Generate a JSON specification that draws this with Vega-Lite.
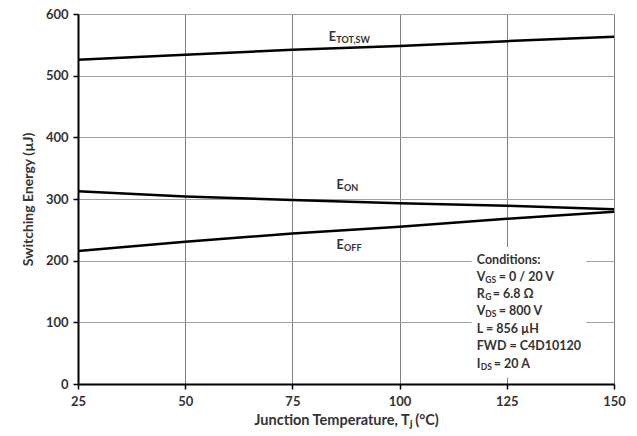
{
  "$schema": "https://vega.github.io/schema/vega-lite/v6.json",
  "width": 536,
  "height": 370,
  "autosize": {"type": "none"},
  "padding": {"left": 78, "top": 14, "right": 23, "bottom": 52},
  "background": "white",
  "config": {
    "font": "Lato",
    "view": {"stroke": null},
    "axis": {
      "labelFont": "Lato",
      "labelFontWeight": "bold",
      "labelFontSize": 13,
      "labelColor": "#333333",
      "titleFont": "Lato",
      "titleFontWeight": "bold",
      "titleColor": "#333333",
      "domainColor": "#000000",
      "domainWidth": 2,
      "tickColor": "#000000",
      "tickWidth": 1.5,
      "tickSize": 5,
      "gridWidth": 1
    }
  },
  "datasets": {
    "curves": [
      {"T": 25, "E": 526, "series": "ETOT"},
      {"T": 50, "E": 534, "series": "ETOT"},
      {"T": 75, "E": 542, "series": "ETOT"},
      {"T": 100, "E": 548, "series": "ETOT"},
      {"T": 125, "E": 556, "series": "ETOT"},
      {"T": 150, "E": 563, "series": "ETOT"},
      {"T": 25, "E": 312.5, "series": "EON"},
      {"T": 50, "E": 304, "series": "EON"},
      {"T": 75, "E": 298.5, "series": "EON"},
      {"T": 100, "E": 293, "series": "EON"},
      {"T": 125, "E": 289, "series": "EON"},
      {"T": 150, "E": 283.5, "series": "EON"},
      {"T": 25, "E": 215.5, "series": "EOFF"},
      {"T": 50, "E": 230.5, "series": "EOFF"},
      {"T": 75, "E": 244, "series": "EOFF"},
      {"T": 100, "E": 255, "series": "EOFF"},
      {"T": 125, "E": 268, "series": "EOFF"},
      {"T": 150, "E": 279.5, "series": "EOFF"}
    ],
    "curveLabels": [
      {"T": 83.5, "E": 563, "main": "E", "sub": "TOT,SW"},
      {"T": 85.3, "E": 322, "main": "E", "sub": "ON"},
      {"T": 85.3, "E": 225, "main": "E", "sub": "OFF"}
    ],
    "box": [
      {"T": 116.8, "T2": 143.5, "E": 10, "E2": 222}
    ],
    "conditions": [
      {"T": 118, "E": 201, "main": "Conditions:", "sub": "", "rest": ""},
      {"T": 118, "E": 174, "main": "V", "sub": "GS", "rest": "= 0 / 20 V"},
      {"T": 118, "E": 146, "main": "R", "sub": "G", "rest": "= 6.8 Ω"},
      {"T": 118, "E": 118, "main": "V", "sub": "DS", "rest": "= 800 V"},
      {"T": 118, "E": 89.5, "main": "L = 856 µH", "sub": "", "rest": ""},
      {"T": 118, "E": 61, "main": "FWD = C4D10120", "sub": "", "rest": ""},
      {"T": 118, "E": 33, "main": "I", "sub": "DS", "rest": "= 20 A"}
    ]
  },
  "layer": [
    {
      "data": {"name": "curves"},
      "mark": {"type": "line", "color": "#000000", "strokeWidth": 2.5, "clip": true},
      "encoding": {
        "x": {
          "field": "T",
          "type": "quantitative",
          "scale": {"domain": [25, 150], "nice": false, "zero": false},
          "axis": {
            "values": [25, 50, 75, 100, 125, 150],
            "title": "Junction Temperature, Tⱼ (°C)",
            "titleFontSize": 14.5,
            "titlePadding": 5,
            "labelPadding": 6,
            "gridColor": "#808080",
            "labelFlush": false
          }
        },
        "y": {
          "field": "E",
          "type": "quantitative",
          "scale": {"domain": [0, 600], "nice": false},
          "axis": {
            "values": [0, 100, 200, 300, 400, 500, 600],
            "title": "Switching Energy (µJ)",
            "titleFontSize": 14,
            "titlePadding": 10,
            "labelPadding": 5,
            "gridColor": "#a0a0a0"
          }
        },
        "detail": {"field": "series"}
      }
    },
    {
      "data": {"name": "curveLabels"},
      "mark": {"type": "text", "align": "left", "baseline": "middle", "fontSize": 12.5, "fontWeight": "bold", "color": "#333333"},
      "encoding": {
        "x": {"field": "T", "type": "quantitative"},
        "y": {"field": "E", "type": "quantitative"},
        "text": {"field": "main"}
      }
    },
    {
      "data": {"name": "curveLabels"},
      "mark": {"type": "text", "align": "left", "baseline": "middle", "dx": 7.5, "dy": 3, "fontSize": 9, "fontWeight": "bold", "color": "#333333"},
      "encoding": {
        "x": {"field": "T", "type": "quantitative"},
        "y": {"field": "E", "type": "quantitative"},
        "text": {"field": "sub"}
      }
    },
    {
      "data": {"name": "box"},
      "mark": {"type": "rect", "color": "white"},
      "encoding": {
        "x": {"field": "T", "type": "quantitative"},
        "x2": {"field": "T2"},
        "y": {"field": "E", "type": "quantitative"},
        "y2": {"field": "E2"}
      }
    },
    {
      "data": {"name": "conditions"},
      "mark": {"type": "text", "align": "left", "baseline": "middle", "fontSize": 12.5, "fontWeight": "bold", "color": "#333333"},
      "encoding": {
        "x": {"field": "T", "type": "quantitative"},
        "y": {"field": "E", "type": "quantitative"},
        "text": {"field": "main"}
      }
    },
    {
      "data": {"name": "conditions"},
      "transform": [{"filter": "datum.main === 'V' || datum.main === 'R'"}],
      "mark": {"type": "text", "align": "left", "baseline": "middle", "dx": 8.5, "dy": 3, "fontSize": 8.5, "fontWeight": "bold", "color": "#333333"},
      "encoding": {
        "x": {"field": "T", "type": "quantitative"},
        "y": {"field": "E", "type": "quantitative"},
        "text": {"field": "sub"}
      }
    },
    {
      "data": {"name": "conditions"},
      "transform": [{"filter": "datum.main === 'I'"}],
      "mark": {"type": "text", "align": "left", "baseline": "middle", "dx": 4, "dy": 3, "fontSize": 8.5, "fontWeight": "bold", "color": "#333333"},
      "encoding": {
        "x": {"field": "T", "type": "quantitative"},
        "y": {"field": "E", "type": "quantitative"},
        "text": {"field": "sub"}
      }
    },
    {
      "data": {"name": "conditions"},
      "transform": [{"filter": "datum.main === 'V'"}],
      "mark": {"type": "text", "align": "left", "baseline": "middle", "dx": 22, "fontSize": 12.5, "fontWeight": "bold", "color": "#333333"},
      "encoding": {
        "x": {"field": "T", "type": "quantitative"},
        "y": {"field": "E", "type": "quantitative"},
        "text": {"field": "rest"}
      }
    },
    {
      "data": {"name": "conditions"},
      "transform": [{"filter": "datum.main === 'R'"}],
      "mark": {"type": "text", "align": "left", "baseline": "middle", "dx": 16, "fontSize": 12.5, "fontWeight": "bold", "color": "#333333"},
      "encoding": {
        "x": {"field": "T", "type": "quantitative"},
        "y": {"field": "E", "type": "quantitative"},
        "text": {"field": "rest"}
      }
    },
    {
      "data": {"name": "conditions"},
      "transform": [{"filter": "datum.main === 'I'"}],
      "mark": {"type": "text", "align": "left", "baseline": "middle", "dx": 17, "fontSize": 12.5, "fontWeight": "bold", "color": "#333333"},
      "encoding": {
        "x": {"field": "T", "type": "quantitative"},
        "y": {"field": "E", "type": "quantitative"},
        "text": {"field": "rest"}
      }
    }
  ]
}
